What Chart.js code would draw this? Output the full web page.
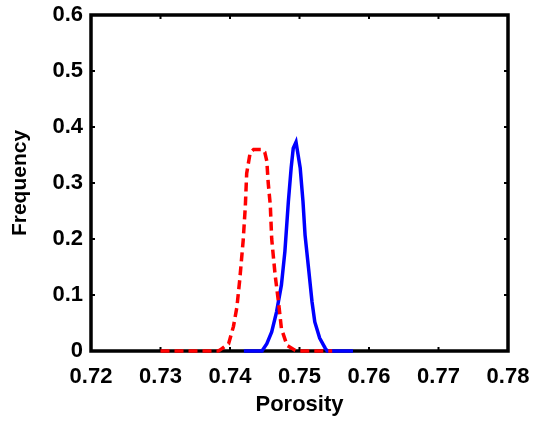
<!DOCTYPE html>
<html>
<head>
<meta charset="utf-8">
<script src="https://cdn.jsdelivr.net/npm/chart.js@4"></script>
<style>
html,body{margin:0;padding:0;background:#fff;}
#wrap{width:535px;height:424px;}
</style>
</head>
<body>
<div id="wrap"><canvas id="c" width="535" height="424"></canvas></div>
<script>
// Data
const redX  = [0.7300,0.7383,0.7386,0.7398,0.7405,0.7410,0.7414,0.7419,0.7422,0.7424,0.7429,0.7434,0.7446,0.7450,0.7453,0.7455,0.7458,0.7460,0.7465,0.7470,0.7474,0.7482,0.7494,0.7496,0.7547];
const redY  = [0,0,0.002,0.013,0.044,0.079,0.127,0.198,0.257,0.317,0.354,0.360,0.360,0.355,0.339,0.300,0.260,0.200,0.135,0.085,0.040,0.010,0.001,0,0];
const blueX = [0.7420,0.7446,0.7453,0.7460,0.7467,0.7474,0.7479,0.7484,0.7488,0.7491,0.7495,0.7498,0.7501,0.7505,0.7508,0.7513,0.7518,0.7522,0.7529,0.7537,0.7540,0.7577];
const blueY = [0,0,0.013,0.034,0.070,0.118,0.178,0.267,0.327,0.362,0.373,0.350,0.327,0.267,0.207,0.148,0.088,0.052,0.023,0.005,0,0];
const xTicks = [0.72,0.73,0.74,0.75,0.76,0.77,0.78];
const yTicks = [0,0.1,0.2,0.3,0.4,0.5,0.6];
const xTitle = "Porosity";
const yTitle = "Frequency";

const pts = (xs, ys) => xs.map((x, i) => ({x: x, y: ys[i]}));
const FONT = "'Liberation Sans', Arial, sans-serif";

const framePlugin = {
  id: 'frame',
  beforeDatasetsDraw(chart) {
    const ctx = chart.ctx, a = chart.chartArea;
    const xs = chart.scales.x, ys = chart.scales.y;
    ctx.save();
    ctx.strokeStyle = '#000';
    ctx.lineWidth = 2;
    const tl = 4;
    xTicks.forEach(v => {
      const px = xs.getPixelForValue(v);
      ctx.beginPath();
      ctx.moveTo(px, a.bottom); ctx.lineTo(px, a.bottom - tl);
      ctx.moveTo(px, a.top); ctx.lineTo(px, a.top + tl);
      ctx.stroke();
    });
    yTicks.forEach(v => {
      const py = ys.getPixelForValue(v);
      ctx.beginPath();
      ctx.moveTo(a.left, py); ctx.lineTo(a.left + tl, py);
      ctx.moveTo(a.right, py); ctx.lineTo(a.right - tl, py);
      ctx.stroke();
    });
    ctx.lineWidth = 3.5;
    ctx.strokeRect(a.left, a.top, a.right - a.left, a.bottom - a.top);
    ctx.restore();
  }
};

new Chart(document.getElementById('c'), {
  type: 'line',
  data: {
    datasets: [
      {
        data: pts(redX, redY),
        borderColor: '#ff0000',
        borderWidth: 3.5,
        borderDash: [9, 5],
        pointRadius: 0,
        tension: 0,
        fill: false,
        clip: false
      },
      {
        data: pts(blueX, blueY),
        borderColor: '#0000ff',
        borderWidth: 3.5,
        pointRadius: 0,
        tension: 0,
        fill: false,
        clip: false
      }
    ]
  },
  options: {
    responsive: false,
    animation: false,
    layout: { padding: { left: 0, right: 27, top: 15, bottom: 6 } },
    plugins: { legend: { display: false }, tooltip: { enabled: false } },
    scales: {
      x: {
        type: 'linear',
        min: 0.72, max: 0.78,
        afterFit(s) { s.height = 67; s.paddingLeft = 0; s.paddingRight = 0; },
        afterBuildTicks(s) { s.ticks = xTicks.map(v => ({value: v})); },
        grid: { display: false, drawTicks: false },
        border: { display: false },
        ticks: {
          color: '#000', padding: 13,
          font: { family: FONT, size: 22, weight: 'bold' },
          maxRotation: 0, autoSkip: false,
          callback: v => v.toFixed(2)
        },
        title: {
          display: true, text: xTitle, color: '#000',
          font: { family: FONT, size: 22, weight: 'bold' },
          padding: { top: 0, bottom: 0 }
        }
      },
      y: {
        type: 'linear',
        min: 0, max: 0.6,
        afterFit(s) { s.width = 91; s.paddingTop = 0; s.paddingBottom = 0; },
        afterBuildTicks(s) { s.ticks = yTicks.map(v => ({value: v})); },
        grid: { display: false, drawTicks: false },
        border: { display: false },
        ticks: {
          color: '#000', padding: 8,
          font: { family: FONT, size: 22, weight: 'bold' },
          autoSkip: false,
          callback: v => (v === 0 ? '0' : v.toFixed(1))
        },
        title: {
          display: true, text: yTitle, color: '#000',
          font: { family: FONT, size: 21, weight: 'bold' },
          padding: { top: 8, bottom: 0 }
        }
      }
    }
  },
  plugins: [framePlugin]
});
</script>
</body>
</html>
